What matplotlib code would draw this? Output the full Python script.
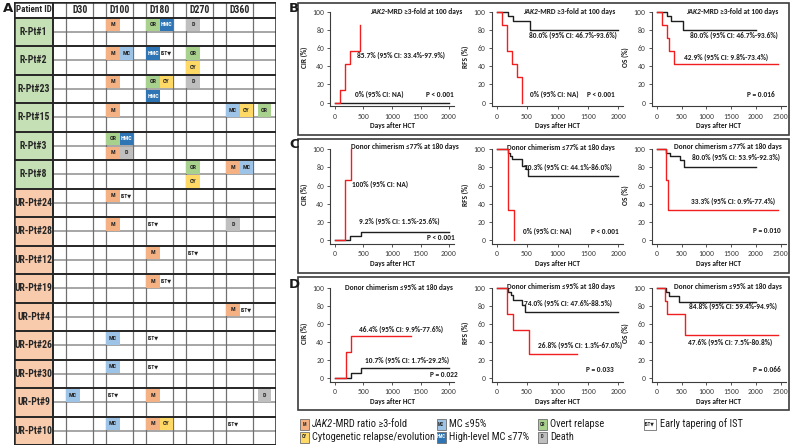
import matplotlib
matplotlib.use('Agg')
import matplotlib.pyplot as plt
from matplotlib import font_manager
from matplotlib.patches import Rectangle

W, H = 790, 447

installed = {f.name for f in font_manager.fontManager.ttflist}


def pick(*names):
    for n in names:
        if n in installed:
            return n
    return 'DejaVu Sans'


TAB_FONT = pick('Liberation Sans Narrow', 'Roboto Condensed', 'Roboto')
KM_FONT = pick('Carlito', 'Lato', 'Open Sans')

# ---------------- panel A data ----------------
patients = ['R-Pt#1', 'R-Pt#2', 'R-Pt#23', 'R-Pt#15', 'R-Pt#3', 'R-Pt#8',
            'UR-Pt#24', 'UR-Pt#28', 'UR-Pt#12', 'UR-Pt#19', 'UR-Pt#4',
            'UR-Pt#26', 'UR-Pt#30', 'UR-Pt#9', 'UR-Pt#10']
time_cols = ['', 'D30', '', 'D100', '', 'D180', '', 'D270', '', 'D360', '']
col_widths = [1, 2, 1, 2, 1, 2, 1, 2, 1, 2, 1.72]

# (patient, column index, sub slot, sub row, event code)
events = [
    ('R-Pt#1', 3, 0, 0, 'M'), ('R-Pt#1', 5, 0, 0, 'OR'), ('R-Pt#1', 5, 1, 0, 'HMC'), ('R-Pt#1', 7, 0, 0, 'D'),
    ('R-Pt#2', 3, 0, 0, 'M'), ('R-Pt#2', 3, 1, 0, 'MC'), ('R-Pt#2', 5, 0, 0, 'HMC'), ('R-Pt#2', 5, 1, 0, 'IST'),
    ('R-Pt#2', 7, 0, 0, 'OR'), ('R-Pt#2', 7, 0, 1, 'CY'),
    ('R-Pt#23', 3, 0, 0, 'M'), ('R-Pt#23', 5, 0, 0, 'OR'), ('R-Pt#23', 5, 1, 0, 'CY'), ('R-Pt#23', 5, 0, 1, 'HMC'),
    ('R-Pt#23', 7, 0, 0, 'D'),
    ('R-Pt#15', 3, 0, 0, 'M'), ('R-Pt#15', 9, 0, 0, 'MC'), ('R-Pt#15', 9, 1, 0, 'CY'), ('R-Pt#15', 10, 0, 0, 'OR'),
    ('R-Pt#3', 3, 0, 0, 'OR'), ('R-Pt#3', 3, 1, 0, 'HMC'), ('R-Pt#3', 3, 0, 1, 'M'), ('R-Pt#3', 3, 1, 1, 'D'),
    ('R-Pt#8', 7, 0, 0, 'OR'), ('R-Pt#8', 7, 0, 1, 'CY'), ('R-Pt#8', 9, 0, 0, 'M'), ('R-Pt#8', 9, 1, 0, 'MC'),
    ('UR-Pt#24', 3, 0, 0, 'M'), ('UR-Pt#24', 3, 1, 0, 'IST'),
    ('UR-Pt#28', 3, 0, 0, 'M'), ('UR-Pt#28', 5, 0, 0, 'IST'), ('UR-Pt#28', 9, 0, 0, 'D'),
    ('UR-Pt#12', 5, 0, 0, 'M'), ('UR-Pt#12', 7, 0, 0, 'IST'),
    ('UR-Pt#19', 5, 0, 0, 'M'), ('UR-Pt#19', 5, 1, 0, 'IST'),
    ('UR-Pt#4', 9, 0, 0, 'M'), ('UR-Pt#4', 9, 1, 0, 'IST'),
    ('UR-Pt#26', 3, 0, 0, 'MC'), ('UR-Pt#26', 5, 0, 0, 'IST'),
    ('UR-Pt#30', 3, 0, 0, 'MC'), ('UR-Pt#30', 5, 0, 0, 'IST'),
    ('UR-Pt#9', 1, 0, 0, 'MC'), ('UR-Pt#9', 3, 0, 0, 'IST'), ('UR-Pt#9', 5, 0, 0, 'M'), ('UR-Pt#9', 10, 0, 0, 'D'),
    ('UR-Pt#10', 3, 0, 0, 'MC'), ('UR-Pt#10', 5, 0, 0, 'M'), ('UR-Pt#10', 5, 1, 0, 'CY'), ('UR-Pt#10', 9, 0, 0, 'IST'),
]

event_colors = {'M': '#f4b183', 'MC': '#9dc3e6', 'HMC': '#2e75b6',
                'OR': '#a9d18e', 'CY': '#ffd966', 'D': '#bfbfbf', 'IST': 'white'}

legend_items = [('M', 'JAK2', '-MRD ratio \u22653-fold'), ('CY', '', 'Cytogenetic relapse/evolution'),
                ('MC', '', 'MC \u226495%'), ('HMC', '', 'High-level MC \u226477%'),
                ('OR', '', 'Overt relapse'), ('D', '', 'Death'),
                ('IST', '', 'Early tapering of IST')]

# ---------------- KM / CIR curves (days, %) ----------------
# B: JAK2-MRD >=3-fold at 100 days (red) vs not (black)
b_cir_red_t, b_cir_red_v = [95, 180, 270, 440], [14.3, 42.9, 57.1, 85.7]
b_cir_blk_t, b_cir_blk_v = [], []
b_rfs_red_t, b_rfs_red_v = [93, 175, 258, 329, 422], [85.7, 57.1, 42.9, 28.6, 0]
b_rfs_blk_t, b_rfs_blk_v = [192, 274, 548], [95.0, 90.0, 80.0]
b_os_red_t, b_os_red_v = [100, 215, 255, 350], [85.7, 71.4, 57.1, 42.9]
b_os_blk_t, b_os_blk_v = [200, 282, 537], [95.0, 90.0, 80.0]

# C: donor chimerism <=77% at 180 days
c_cir_red_t, c_cir_red_v = [181, 275], [66.7, 100]
c_cir_blk_t, c_cir_blk_v = [271, 452], [4.6, 9.2]
c_rfs_red_t, c_rfs_red_v = [183, 287], [33.3, 0]
c_rfs_blk_t, c_rfs_blk_v = [190, 215, 250, 410, 480, 520], [96.3, 92.6, 88.9, 81.5, 77.8, 70.3]
c_os_red_t, c_os_red_v = [190, 230], [66.7, 33.3]
c_os_blk_t, c_os_blk_v = [190, 270, 460, 540], [96.2, 92.3, 88.5, 80.0]

# D: donor chimerism <=95% at 180 days
d_cir_red_t, d_cir_red_v = [193, 283], [28.6, 46.4]
d_cir_blk_t, d_cir_blk_v = [283, 452], [5.4, 10.7]
d_rfs_red_t, d_rfs_red_v = [171, 263, 538], [71.4, 53.6, 26.8]
d_rfs_blk_t, d_rfs_blk_v = [190, 230, 275, 420, 460], [96.3, 92.6, 87.0, 81.5, 74.0]
d_os_red_t, d_os_red_v = [175, 215, 560], [85.7, 71.4, 47.6]
d_os_blk_t, d_os_blk_v = [190, 250, 450], [95.7, 91.3, 84.8]

fig = plt.figure(figsize=(W / 100, H / 100), dpi=100)


def px_axes(l, t, r, b, **kw):
    return fig.add_axes([l / W, 1 - b / H, (r - l) / W, (b - t) / H], **kw)


# background axes in pixel units for frames, labels and legend
bg = px_axes(0, 0, W, H)
bg.set_xlim(0, W)
bg.set_ylim(H, 0)
bg.axis('off')

# ---------------- panel A: table ----------------
ax_t = px_axes(14, 2, 276, 445)
pid_w = 2.93
head_h = 1.1
col_x = [pid_w]
for w in col_widths:
    col_x.append(col_x[-1] + w)
tot_w = col_x[-1]
tot_h = head_h + 2 * len(patients)
ax_t.set_xlim(0, tot_w)
ax_t.set_ylim(tot_h, 0)
ax_t.axis('off')

tab_txt = dict(family=[TAB_FONT, 'DejaVu Sans'], fontweight='bold', color='#262626')

for i, p in enumerate(patients):
    y0 = head_h + 2 * i
    fc = '#c5e0b4' if p.startswith('R-') else '#f8cbad'
    ax_t.add_patch(Rectangle((0, y0), pid_w, 2, fc=fc, ec='none', zorder=1))
    ax_t.text(pid_w / 2, y0 + 1, p, ha='center', va='center', fontsize=7, zorder=5, **tab_txt)
    ax_t.plot([pid_w, tot_w], [y0 + 1, y0 + 1], color='#a6a6a6', lw=1.4, zorder=2)

for x in col_x[1:-1]:
    ax_t.plot([x, x], [0, tot_h], color='#707070', lw=0.9, zorder=2)
for i in range(len(patients) + 1):
    y = head_h + 2 * i
    ax_t.plot([0, tot_w], [y, y], color='#262626', lw=1.4, zorder=4)
ax_t.plot([pid_w, pid_w], [0, tot_h], color='#262626', lw=1.4, zorder=4)
ax_t.add_patch(Rectangle((0, 0), tot_w, tot_h, fill=False, ec='#262626', lw=1.8, zorder=6))

ax_t.text(pid_w / 2, head_h / 2, 'Patient ID', ha='center', va='center', fontsize=6.5, **tab_txt)
for j, name in enumerate(time_cols):
    if name:
        ax_t.text((col_x[j] + col_x[j + 1]) / 2, head_h / 2, name, ha='center', va='center',
                  fontsize=7, **tab_txt)

for p, c, s, r, code in events:
    i = patients.index(p)
    y0 = head_h + 2 * i + r
    if c == len(col_widths) - 1:
        x0 = (col_x[c] + col_x[c + 1]) / 2 - 0.5
    else:
        x0 = col_x[c] + s
    if code == 'IST':
        ax_t.text(x0 + 0.08, y0 + 0.5, 'IST\u25bc', ha='left', va='center', fontsize=3.8, zorder=5, **tab_txt)
    else:
        ax_t.add_patch(Rectangle((x0, y0 + 0.05), 1, 0.9, fc=event_colors[code], ec='none', zorder=3))
        ax_t.text(x0 + 0.5, y0 + 0.5, code, ha='center', va='center', fontsize=4.3, zorder=5,
                  family=[TAB_FONT, 'DejaVu Sans'], fontweight='bold',
                  color='white' if code == 'HMC' else '#262626')

# ---------------- panels B-D ----------------
RED = '#f01e1e'
BLK = '#1e1e1e'
km_txt = dict(family=[KM_FONT, 'DejaVu Sans'], fontweight='bold', color='#1a1a1a', fontsize=5.3)


def step_line(ax, t, v, start, end, color, z):
    xs = [0] + list(t) + [end]
    ys = [start] + list(v) + [v[-1] if v else start]
    ax.step(xs, ys, where='post', color=color, lw=1.0, zorder=z)


def km_axes(l, t, r, b, xmax, xticks, ylabel):
    ax = px_axes(l, t, r, b)
    ax.set_xlim(-0.04 * xmax, 1.04 * xmax)
    ax.set_ylim(-4, 104)
    ax.set_xticks(xticks)
    ax.set_yticks(range(0, 101, 20))
    for s in ['top', 'right']:
        ax.spines[s].set_visible(False)
    for s in ['left', 'bottom']:
        ax.spines[s].set_color('#3c3c3c')
        ax.spines[s].set_linewidth(0.8)
    ax.spines['left'].set_bounds(-4, 100)
    ax.tick_params(length=2.5, width=0.6, color='#3c3c3c', labelsize=5.5, labelcolor='#404040', pad=2)
    for lab in ax.get_xticklabels() + ax.get_yticklabels():
        lab.set_family([KM_FONT, 'DejaVu Sans'])
    ax.set_xlabel('Days after HCT', labelpad=2, **km_txt)
    ax.set_ylabel(ylabel, labelpad=3, **km_txt)
    ax.patch.set_alpha(0)
    return ax


def title(ax, x, y, prefix, rest):
    t = ax.text(x, y, rest, ha='right', va='center', **km_txt)
    if prefix:
        ax.annotate(prefix, xy=(0, 0.5), xycoords=t, ha='right', va='center', fontstyle='italic', **km_txt)


rows = [(8.1, 106.3), (145.7, 243.6), (284.7, 381.6)]
cols = [(330.4, 453.6, 2000, [0, 500, 1000, 1500, 2000], 'CIR (%)'),
        (491.8, 623.2, 2000, [0, 500, 1000, 1500, 2000], 'RFS (%)'),
        (651.7, 785.9, 2500, [0, 500, 1000, 1500, 2000, 2500], 'OS (%)')]

curves = [
    [(b_cir_red_t, b_cir_red_v, 0, 440, b_cir_blk_t, b_cir_blk_v, 0, 2000),
     (b_rfs_red_t, b_rfs_red_v, 100, 422, b_rfs_blk_t, b_rfs_blk_v, 100, 2000),
     (b_os_red_t, b_os_red_v, 100, 2450, b_os_blk_t, b_os_blk_v, 100, 2000)],
    [(c_cir_red_t, c_cir_red_v, 0, 275, c_cir_blk_t, c_cir_blk_v, 0, 2000),
     (c_rfs_red_t, c_rfs_red_v, 100, 287, c_rfs_blk_t, c_rfs_blk_v, 100, 2000),
     (c_os_red_t, c_os_red_v, 100, 2450, c_os_blk_t, c_os_blk_v, 100, 2000)],
    [(d_cir_red_t, d_cir_red_v, 0, 1337, d_cir_blk_t, d_cir_blk_v, 0, 2000),
     (d_rfs_red_t, d_rfs_red_v, 100, 1315, d_rfs_blk_t, d_rfs_blk_v, 100, 2000),
     (d_os_red_t, d_os_red_v, 100, 2450, d_os_blk_t, d_os_blk_v, 100, 2000)],
]

axes = []
for ri, (top, bot) in enumerate(rows):
    line = []
    for ci, (l, r, xmax, xt, yl) in enumerate(cols):
        ax = km_axes(l, top, r, bot, xmax, xt, yl)
        rt, rv, rs, re_, bt, bv, bs, be = curves[ri][ci]
        step_line(ax, bt, bv, bs, be, BLK, 3)
        step_line(ax, rt, rv, rs, re_, RED, 4)
        line.append(ax)
    axes.append(line)

# annotations, row B
a = axes[0]
title(a[0], 2230, 100, 'JAK2', '-MRD \u22653-fold at 100 days')
a[0].text(380, 52, '85.7% (95% CI: 33.4%-97.9%)', ha='left', va='center', **km_txt)
a[0].text(350, 9, '0% (95% CI: NA)', ha='left', va='center', **km_txt)
a[0].text(2075, 9, 'P < 0.001', ha='right', va='center', **km_txt)
title(a[1], 1950, 100, 'JAK2', '-MRD \u22653-fold at 100 days')
a[1].text(1980, 74, '80.0% (95% CI: 46.7%-93.6%)', ha='right', va='center', **km_txt)
a[1].text(548, 9, '0% (95% CI: NA)', ha='left', va='center', **km_txt)
a[1].text(1945, 9, 'P < 0.001', ha='right', va='center', **km_txt)
title(a[2], 2440, 100, 'JAK2', '-MRD \u22653-fold at 100 days')
a[2].text(2440, 74, '80.0% (95% CI: 46.7%-93.6%)', ha='right', va='center', **km_txt)
a[2].text(2240, 49.5, '42.9% (95% CI: 9.8%-73.4%)', ha='right', va='center', **km_txt)
a[2].text(2380, 9, 'P = 0.016', ha='right', va='center', **km_txt)

# row C
a = axes[1]
title(a[0], 2168, 103, '', 'Donor chimerism \u226477% at 180 days')
a[0].text(293, 61, '100% (95% CI: NA)', ha='left', va='center', **km_txt)
a[0].text(414, 20, '9.2% (95% CI: 1.5%-25.6%)', ha='left', va='center', **km_txt)
a[0].text(2105, 3, 'P < 0.001', ha='right', va='center', **km_txt)
title(a[1], 1945, 101.5, '', 'Donor chimerism \u226477% at 180 days')
a[1].text(1896, 80, '70.3% (95% CI: 44.1%-86.0%)', ha='right', va='center', **km_txt)
a[1].text(433, 9, '0% (95% CI: NA)', ha='left', va='center', **km_txt)
a[1].text(2011, 9, 'P < 0.001', ha='right', va='center', **km_txt)
title(a[2], 2515, 103, '', 'Donor chimerism \u226477% at 180 days')
a[2].text(2480, 90.7, '80.0% (95% CI: 53.9%-92.3%)', ha='right', va='center', **km_txt)
a[2].text(2380, 43, '33.3% (95% CI: 0.9%-77.4%)', ha='right', va='center', **km_txt)
a[2].text(2500, 10, 'P = 0.010', ha='right', va='center', **km_txt)

# row D
a = axes[2]
title(a[0], 2065, 100.5, '', 'Donor chimerism \u226495% at 180 days')
a[0].text(1895, 54, '46.4% (95% CI: 9.9%-77.6%)', ha='right', va='center', **km_txt)
a[0].text(2000, 19.5, '10.7% (95% CI: 1.7%-29.2%)', ha='right', va='center', **km_txt)
a[0].text(2150, 3.7, 'P = 0.022', ha='right', va='center', **km_txt)
title(a[1], 1945, 102.5, '', 'Donor chimerism \u226495% at 180 days')
a[1].text(1890, 83, '74.0% (95% CI: 47.6%-88.5%)', ha='right', va='center', **km_txt)
a[1].text(2060, 36.8, '26.8% (95% CI: 1.3%-67.0%)', ha='right', va='center', **km_txt)
a[1].text(1930, 10, 'P = 0.033', ha='right', va='center', **km_txt)
title(a[2], 2520, 102.5, '', 'Donor chimerism \u226495% at 180 days')
a[2].text(2420, 79.6, '84.8% (95% CI: 59.4%-94.9%)', ha='right', va='center', **km_txt)
a[2].text(2320, 40, '47.6% (95% CI: 7.5%-80.8%)', ha='right', va='center', **km_txt)
a[2].text(2500, 9, 'P = 0.066', ha='right', va='center', **km_txt)

# frames and panel letters
for top, bot in [(2.7, 135), (139, 273), (277, 410)]:
    bg.add_patch(Rectangle((298, top), 789 - 298, bot - top, fill=False, ec='#3c3c3c', lw=1.2))
for letter, x, y in [('A', 3, 8), ('B', 289, 8), ('C', 289, 144), ('D', 289, 285)]:
    bg.text(x, y, letter, ha='left', va='center', fontsize=9.5, fontweight='bold', color='#1a1a1a')

# legend
leg_x = [300, 300, 437, 437, 538, 538, 644]
leg_y = [424, 437, 424, 437, 424, 437, 424]
leg_font = dict(family=[TAB_FONT, 'DejaVu Sans'], color='#1a1a1a', fontsize=7.5)
for (code, pre, lab), x, y in zip(legend_items, leg_x, leg_y):
    bw = 12 if code == 'IST' else 8.5
    bg.add_patch(Rectangle((x, y - 5.5), bw, 11, fc=event_colors[code], ec='#6e6e6e', lw=0.6))
    bg.text(x + bw / 2, y, 'IST\u25bc' if code == 'IST' else code, ha='center', va='center',
            fontsize=3.3, fontweight='bold', family=[TAB_FONT, 'DejaVu Sans'],
            color='white' if code == 'HMC' else '#262626')
    tx = x + bw + 3.5
    if pre:
        t = bg.text(tx, y, pre, ha='left', va='center', fontstyle='italic', **leg_font)
        bg.annotate(lab, xy=(1, 0.5), xycoords=t, ha='left', va='center', **leg_font)
    else:
        bg.text(tx, y, lab, ha='left', va='center', **leg_font)

fig.savefig('out.png', dpi=100)
